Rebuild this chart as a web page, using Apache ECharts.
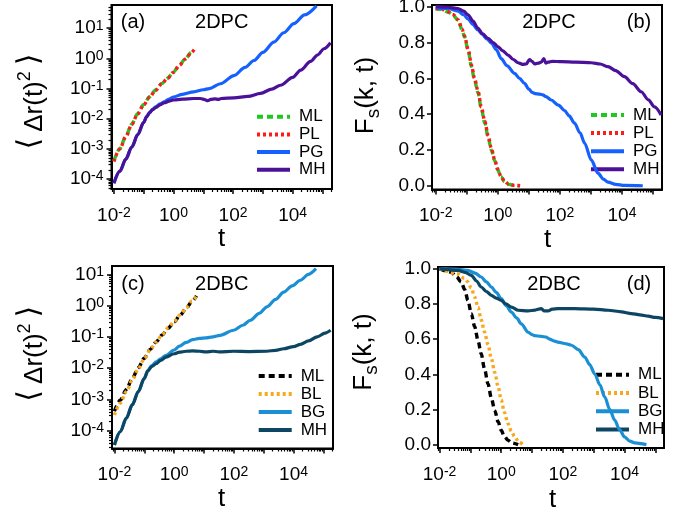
<!DOCTYPE html>
<html>
<head>
<meta charset="utf-8">
<script src="https://cdn.jsdelivr.net/npm/echarts@6/dist/echarts.min.js"></script>
<style>
  html, body { margin: 0; padding: 0; background: #fff; }
  #chart { width: 682px; height: 515px; }
</style>
</head>
<body>
<div id="chart"></div>
<script>
// ---------------------------------------------------------------
// Data. Times are stored as log10(t); mean-square displacements
// are stored as log10(<Δr²>); Fs(k,t) is stored as is.
// ---------------------------------------------------------------

// (a) 2DPC mean-square displacement
const pcMsdT_ML = [-2.0,-1.8,-1.6,-1.4,-1.2,-1.0,-0.8,-0.6,-0.4,-0.2,0.0,0.2,0.4,0.6,0.68];
const pcMsd_ML  = [-3.40,-2.99,-2.58,-2.18,-1.83,-1.53,-1.27,-1.05,-0.84,-0.66,-0.45,-0.22,-0.01,0.20,0.29];
const pcMsdT_PL = [-2.0,-1.8,-1.6,-1.4,-1.2,-1.0,-0.8,-0.6,-0.4,-0.2,0.0,0.2,0.4,0.6,0.7];
const pcMsd_PL  = [-3.42,-3.00,-2.60,-2.19,-1.84,-1.54,-1.28,-1.06,-0.85,-0.66,-0.46,-0.23,-0.02,0.19,0.30];
const pcMsdT_PG = [-2.0,-1.8,-1.6,-1.4,-1.2,-1.0,-0.9,-0.8,-0.7,-0.6,-0.45,-0.3,-0.15,0.0,0.3,0.68,1.0,1.2,1.58,2.03,2.4,2.7,3.0,3.37,3.7,4.04,4.4,4.8];
const pcMsd_PG  = [-4.14,-3.74,-3.34,-2.94,-2.53,-2.12,-1.93,-1.79,-1.69,-1.61,-1.51,-1.43,-1.35,-1.28,-1.19,-1.11,-1.04,-1.0,-0.84,-0.57,-0.3,-0.07,0.2,0.54,0.85,1.15,1.44,1.74];
const pcMsdT_MH = [-2.0,-1.8,-1.6,-1.4,-1.2,-1.0,-0.9,-0.8,-0.7,-0.6,-0.45,-0.3,-0.15,0.0,0.3,0.68,0.9,1.05,1.15,1.25,1.4,1.5,1.6,2.03,2.5,2.92,3.3,3.59,4.0,4.27,4.6,4.83,5.05,5.27];
const pcMsd_MH  = [-4.14,-3.74,-3.34,-2.94,-2.53,-2.12,-1.93,-1.80,-1.70,-1.63,-1.54,-1.47,-1.42,-1.38,-1.35,-1.33,-1.33,-1.37,-1.40,-1.36,-1.34,-1.36,-1.33,-1.31,-1.26,-1.16,-1.02,-0.89,-0.63,-0.39,-0.10,0.11,0.32,0.52];

// (b) 2DPC self-intermediate scattering function
const pcFsT_ML = [-2.0,-1.8,-1.6,-1.45,-1.28,-1.15,-1.07,-0.95,-0.85,-0.75,-0.64,-0.53,-0.42,-0.31,-0.21,-0.1,0.0,0.1,0.22,0.35,0.54,0.7];
const pcFs_ML  = [0.99,0.985,0.97,0.955,0.925,0.87,0.83,0.75,0.665,0.59,0.52,0.43,0.35,0.27,0.2,0.14,0.088,0.05,0.022,0.008,0.002,0.0];
const pcFsT_PL = [-2.0,-1.8,-1.6,-1.45,-1.28,-1.15,-1.07,-0.95,-0.85,-0.75,-0.64,-0.53,-0.42,-0.31,-0.21,-0.1,0.0,0.1,0.22,0.35,0.54,0.72];
const pcFs_PL  = [0.99,0.986,0.972,0.957,0.928,0.875,0.835,0.758,0.675,0.6,0.53,0.44,0.36,0.28,0.21,0.145,0.092,0.053,0.024,0.009,0.002,0.0];
const pcFsT_PG = [-2.0,-1.6,-1.28,-1.1,-0.95,-0.8,-0.64,-0.5,-0.35,-0.2,-0.05,0.11,0.3,0.54,0.7,0.86,1.0,1.1,1.2,1.35,1.45,1.55,1.72,1.95,2.15,2.3,2.47,2.65,2.8,3.01,3.23,3.4,3.55,3.8,4.08,4.67];
const pcFs_PG  = [0.995,0.99,0.975,0.955,0.93,0.9,0.87,0.845,0.82,0.795,0.76,0.71,0.67,0.628,0.6,0.572,0.54,0.522,0.515,0.512,0.508,0.498,0.479,0.45,0.42,0.39,0.35,0.295,0.237,0.144,0.07,0.037,0.02,0.008,0.002,0.0];
const pcFsT_MH = [-2.0,-1.6,-1.28,-1.1,-0.96,-0.8,-0.64,-0.5,-0.31,-0.15,0.0,0.15,0.33,0.5,0.65,0.8,0.92,1.02,1.1,1.19,1.3,1.4,1.48,1.55,1.62,1.75,2.05,2.5,3.01,3.3,3.55,3.8,4.08,4.35,4.62,4.85,5.05,5.26];
const pcFs_MH  = [1.0,0.997,0.99,0.975,0.955,0.92,0.88,0.85,0.823,0.80,0.777,0.755,0.73,0.705,0.687,0.678,0.68,0.705,0.695,0.68,0.685,0.69,0.71,0.685,0.69,0.695,0.693,0.69,0.687,0.68,0.665,0.643,0.609,0.57,0.525,0.48,0.44,0.395];

// (c) 2DBC mean-square displacement
const bcMsdT_ML = [-2.0,-1.8,-1.6,-1.4,-1.2,-1.0,-0.8,-0.6,-0.4,-0.2,0.0,0.2,0.4,0.6,0.75];
const bcMsd_ML  = [-3.38,-3.02,-2.68,-2.33,-1.99,-1.68,-1.40,-1.16,-0.94,-0.72,-0.52,-0.31,-0.09,0.14,0.31];
const bcMsdT_BL = [-2.0,-1.8,-1.6,-1.4,-1.2,-1.0,-0.8,-0.6,-0.4,-0.2,0.0,0.2,0.4,0.6,0.78];
const bcMsd_BL  = [-3.5,-3.12,-2.75,-2.38,-2.02,-1.70,-1.41,-1.16,-0.93,-0.71,-0.51,-0.30,-0.08,0.15,0.35];
const bcMsdT_BG = [-2.0,-1.8,-1.6,-1.4,-1.2,-1.0,-0.88,-0.75,-0.6,-0.45,-0.27,0.0,0.18,0.4,0.62,0.85,1.07,1.3,1.54,1.99,2.3,2.55,2.85,3.11,3.4,3.67,3.95,4.23,4.5,4.75];
const bcMsd_BG  = [-4.46,-4.03,-3.6,-3.17,-2.75,-2.33,-2.08,-1.92,-1.8,-1.7,-1.59,-1.42,-1.3,-1.18,-1.09,-1.05,-1.03,-1.0,-0.95,-0.79,-0.63,-0.47,-0.25,-0.04,0.2,0.43,0.63,0.81,1.0,1.18];
const bcMsdT_MH = [-2.0,-1.8,-1.6,-1.4,-1.2,-1.0,-0.88,-0.75,-0.6,-0.45,-0.27,0.0,0.18,0.4,0.62,0.85,1.07,1.3,1.5,1.99,2.5,3.11,3.4,3.67,4.0,4.23,4.5,4.79,5.05,5.24];
const bcMsd_MH  = [-4.46,-4.03,-3.6,-3.17,-2.75,-2.33,-2.09,-1.95,-1.86,-1.75,-1.65,-1.54,-1.49,-1.46,-1.45,-1.46,-1.48,-1.46,-1.48,-1.46,-1.47,-1.46,-1.43,-1.38,-1.31,-1.24,-1.13,-1.0,-0.88,-0.79];

// (d) 2DBC self-intermediate scattering function
const bcFsT_ML = [-2.0,-1.62,-1.45,-1.3,-1.18,-1.08,-0.97,-0.86,-0.75,-0.65,-0.54,-0.43,-0.32,-0.21,-0.1,0.0,0.1,0.22,0.35,0.55];
const bcFs_ML  = [1.0,0.98,0.955,0.925,0.88,0.82,0.745,0.67,0.59,0.517,0.43,0.347,0.265,0.195,0.13,0.082,0.048,0.025,0.01,0.0];
const bcFsT_BL = [-2.0,-1.4,-1.2,-1.08,-0.97,-0.86,-0.75,-0.65,-0.54,-0.43,-0.32,-0.21,-0.1,0.0,0.1,0.22,0.33,0.44,0.57,0.71];
const bcFs_BL  = [1.0,0.97,0.945,0.925,0.89,0.84,0.78,0.71,0.64,0.57,0.49,0.41,0.33,0.255,0.185,0.12,0.075,0.044,0.015,0.0];
const bcFsT_BG = [-2.0,-1.4,-1.08,-0.85,-0.65,-0.48,-0.32,-0.16,0.0,0.16,0.33,0.5,0.65,0.87,1.0,1.08,1.3,1.46,1.52,1.57,1.7,1.84,2.05,2.28,2.5,2.71,2.87,3.03,3.2,3.36,3.52,3.68,3.84,4.0,4.17,4.33,4.71];
const bcFs_BG  = [1.0,0.997,0.99,0.975,0.953,0.925,0.896,0.865,0.83,0.79,0.754,0.72,0.687,0.64,0.625,0.62,0.615,0.612,0.605,0.6,0.59,0.583,0.575,0.565,0.54,0.498,0.455,0.403,0.34,0.27,0.2,0.139,0.085,0.044,0.02,0.01,0.0];
const bcFsT_MH = [-2.0,-1.4,-1.15,-0.97,-0.8,-0.65,-0.48,-0.32,-0.16,0.0,0.15,0.33,0.55,0.87,1.1,1.3,1.4,1.52,1.65,1.84,2.38,3.0,3.47,3.9,4.22,4.5,4.77,5.0,5.25];
const bcFs_MH  = [1.0,0.99,0.978,0.962,0.93,0.896,0.87,0.849,0.833,0.82,0.80,0.782,0.764,0.76,0.765,0.773,0.76,0.76,0.77,0.773,0.773,0.77,0.764,0.755,0.745,0.738,0.73,0.723,0.716];

// Tick label values
const logLabelsX = [-2, 0, 2, 4];
const logLabelsY = [-4, -3, -2, -1, 0, 1];
const fsLabels = [0, 0.2, 0.4, 0.6, 0.8, 1.0];

// ---------------------------------------------------------------
// Styling helpers
// ---------------------------------------------------------------
const FONT = '"Liberation Sans", Arial, Helvetica, sans-serif';
const BLACK = '#000';

const powRich = {
  b: { fontSize: 19, lineHeight: 19, padding: [5, 0, 0, 0], verticalAlign: 'bottom', fontFamily: FONT, color: BLACK },
  s: { fontSize: 14, lineHeight: 14, verticalAlign: 'top', fontFamily: FONT, color: BLACK }
};
const powFormatter = v => '{b|10}{s|' + Math.round(v) + '}';

function majorTicks(range) {
  const out = [];
  for (let n = Math.ceil(range[0]); n <= Math.floor(range[1]); n++) out.push(n);
  return out;
}
function minorTicks(range) {
  const out = [];
  for (let n = Math.floor(range[0]); n <= Math.ceil(range[1]); n++) {
    for (let k = 2; k <= 9; k++) {
      const v = n + Math.log10(k);
      if (v > range[0] && v < range[1]) out.push(v);
    }
  }
  return out;
}

function logAxis(gridIndex, range, labels, isX, margin) {
  return {
    gridIndex, type: 'value', min: range[0], max: range[1],
    position: isX ? 'bottom' : 'left',
    axisLine: { show: true, onZero: false, lineStyle: { color: BLACK, width: 2 } },
    axisTick: { show: true, inside: false, length: 5, customValues: majorTicks(range), lineStyle: { color: BLACK, width: 1.5 } },
    axisLabel: { show: true, customValues: labels, formatter: powFormatter, rich: powRich, margin, color: BLACK },
    splitLine: { show: false }, minorTick: { show: false }
  };
}
function minorLogAxis(gridIndex, range, isX) {
  return {
    gridIndex, type: 'value', min: range[0], max: range[1],
    position: isX ? 'bottom' : 'left',
    axisLine: { show: false, onZero: false },
    axisTick: { show: true, inside: false, length: 3, customValues: minorTicks(range), lineStyle: { color: BLACK, width: 1.2 } },
    axisLabel: { show: false },
    splitLine: { show: false }
  };
}
function fsAxis(gridIndex, range) {
  return {
    gridIndex, type: 'value', min: range[0], max: range[1], position: 'left',
    axisLine: { show: true, onZero: false, lineStyle: { color: BLACK, width: 2 } },
    axisTick: { show: true, inside: false, length: 5, customValues: fsLabels, lineStyle: { color: BLACK, width: 1.5 } },
    axisLabel: { show: true, customValues: fsLabels, formatter: v => v.toFixed(1), margin: 7,
                 fontSize: 19, fontFamily: FONT, color: BLACK },
    splitLine: { show: false }
  };
}

// colours
const C = {
  green: '#1ec81e', red: '#ff1a1a', blue: '#1560ff', purple: '#4b1199',
  black: '#000000', orange: '#f8a81c', sky: '#1a8fd4', navy: '#0d4663'
};
const DASH = [6, 4], DOT = [3, 3];

// ---------------------------------------------------------------
// Panels
// ---------------------------------------------------------------
const panels = [
  { grid: { left: 111.5, top: 5, width: 220.5, height: 184 }, x: [-2.08, 5.32], y: [-4.33, 1.77], log: true,
    legend: { left: 255, top: 108.2, gap: 0.7 },
    series: [
      { name: 'ML', t: pcMsdT_ML, v: pcMsd_ML, color: C.green, type: DASH },
      { name: 'PL', t: pcMsdT_PL, v: pcMsd_PL, color: C.red, type: DOT },
      { name: 'PG', t: pcMsdT_PG, v: pcMsd_PG, color: C.blue, type: 'solid' },
      { name: 'MH', t: pcMsdT_MH, v: pcMsd_MH, color: C.purple, type: 'solid' }
    ] },
  { grid: { left: 432, top: 5, width: 230, height: 184.5 }, x: [-2.12, 5.29], y: [-0.021, 1.0095], log: false,
    legend: { left: 589, top: 106.5, gap: 1.1 },
    series: [
      { name: 'ML', t: pcFsT_ML, v: pcFs_ML, color: C.green, type: DASH },
      { name: 'PL', t: pcFsT_PL, v: pcFs_PL, color: C.red, type: DOT },
      { name: 'PG', t: pcFsT_PG, v: pcFs_PG, color: C.blue, type: 'solid' },
      { name: 'MH', t: pcFsT_MH, v: pcFs_MH, color: C.purple, type: 'solid' }
    ] },
  { grid: { left: 112, top: 266, width: 221, height: 182.5 }, x: [-2.08, 5.32], y: [-4.57, 1.265], log: true,
    legend: { left: 256.7, top: 367.5, gap: 1 },
    series: [
      { name: 'ML', t: bcMsdT_ML, v: bcMsd_ML, color: C.black, type: DASH },
      { name: 'BL', t: bcMsdT_BL, v: bcMsd_BL, color: C.orange, type: DOT },
      { name: 'BG', t: bcMsdT_BG, v: bcMsd_BG, color: C.sky, type: 'solid' },
      { name: 'MH', t: bcMsdT_MH, v: bcMsd_MH, color: C.navy, type: 'solid' }
    ] },
  { grid: { left: 438, top: 267, width: 226, height: 181 }, x: [-2.05, 5.28], y: [-0.019, 1.0097], log: false,
    legend: { left: 594, top: 366.2, gap: 1.3 },
    series: [
      { name: 'ML', t: bcFsT_ML, v: bcFs_ML, color: C.black, type: DASH },
      { name: 'BL', t: bcFsT_BL, v: bcFs_BL, color: C.orange, type: DOT },
      { name: 'BG', t: bcFsT_BG, v: bcFs_BG, color: C.sky, type: 'solid' },
      { name: 'MH', t: bcFsT_MH, v: bcFs_MH, color: C.navy, type: 'solid' }
    ] }
];

const grids = [], xAxes = [], yAxes = [], series = [], legends = [];
panels.forEach((p, i) => {
  grids.push(Object.assign({ show: true, borderColor: BLACK, borderWidth: 2, backgroundColor: 'transparent',
                             containLabel: false, outerBoundsMode: 'none' }, p.grid));
  const xi = xAxes.length;
  xAxes.push(logAxis(i, p.x, logLabelsX, true, 17));
  xAxes.push(minorLogAxis(i, p.x, true));
  const yi = yAxes.length;
  if (p.log) {
    yAxes.push(logAxis(i, p.y, logLabelsY, false, 8));
    yAxes.push(minorLogAxis(i, p.y, false));
  } else {
    yAxes.push(fsAxis(i, p.y));
  }
  const names = [];
  p.series.forEach((s, k) => {
    const id = s.name + '|' + i;
    names.push(id);
    series.push({
      type: 'line', name: id, xAxisIndex: xi, yAxisIndex: yi,
      data: s.t.map((t, j) => [t, s.v[j]]),
      showSymbol: false, symbol: 'none', smooth: 0.3, smoothMonotone: 'x',
      clip: true, silent: true, animation: false, z: 2 + k,
      lineStyle: { color: s.color, width: s.type === 'solid' ? 3.2 : 3.4, type: s.type, cap: 'butt' },
      itemStyle: { color: s.color }
    });
  });
  legends.push({
    left: p.legend.left, top: p.legend.top, orient: 'vertical', padding: 0,
    itemWidth: 33, itemHeight: 14, itemGap: p.legend.gap, selectedMode: false,
    data: names, formatter: n => n.split('|')[0],
    itemStyle: { opacity: 0, borderWidth: 0 },
    lineStyle: { width: 4 },
    textStyle: { fontSize: 17, lineHeight: 17, fontFamily: FONT, color: BLACK, padding: [0, 0, 0, 4] }
  });
});

// Panel labels, axis titles
function label(text, x, y, size) {
  return { type: 'text', x, y, silent: true,
           style: { text, fontSize: size, fontFamily: FONT, fill: BLACK, align: 'center', verticalAlign: 'middle' } };
}
const msdName = {
  text: '{b|\u27e8}{m|\u0394r(t)}{p|2}{b|\u27e9}',
  rich: {
    b: { fontSize: 30, lineHeight: 32, fontFamily: '"DejaVu Sans"', verticalAlign: 'top', padding: [0, 6, 0, 6], fill: BLACK },
    m: { fontSize: 26, lineHeight: 26, fontFamily: FONT, verticalAlign: 'bottom', fill: BLACK },
    p: { fontSize: 18, lineHeight: 18, fontFamily: FONT, verticalAlign: 'top', padding: [0, 0, 12, 0], fill: BLACK }
  }
};
const fsName = {
  text: '{f|F}{s|s}{f|(k, t)}',
  rich: {
    f: { fontSize: 26, lineHeight: 26, fontFamily: FONT, verticalAlign: 'top', fill: BLACK },
    s: { fontSize: 19, lineHeight: 19, fontFamily: FONT, verticalAlign: 'top', padding: [11, 0, 0, 0], fill: BLACK }
  }
};
function vName(def, x, y) {
  return { type: 'text', x, y, rotation: Math.PI / 2, silent: true,
           style: { text: def.text, rich: def.rich, fill: BLACK, align: 'center', verticalAlign: 'middle' } };
}

const graphics = [
  label('(a)', 133, 22.5, 20), label('2DPC', 221.7, 22.5, 20),
  label('2DPC', 549, 22.5, 20), label('(b)', 639, 22.5, 20),
  label('(c)', 133, 284, 20), label('2DBC', 221.7, 284, 20),
  label('2DBC', 554, 284, 20), label('(d)', 639, 284, 20),
  label('t', 221.7, 239, 26), label('t', 547.7, 240, 26),
  label('t', 221.7, 498.7, 26), label('t', 552.7, 500.3, 26),
  vName(msdName, 31.7, 101.5), vName(fsName, 366, 95.5),
  vName(msdName, 31.7, 353.7), vName(fsName, 364.3, 352)
];

const chart = echarts.init(document.getElementById('chart'), null, { renderer: 'canvas' });
chart.setOption({
  animation: false,
  backgroundColor: '#fff',
  textStyle: { fontFamily: FONT },
  grid: grids,
  xAxis: xAxes,
  yAxis: yAxes,
  legend: legends,
  series: series,
  graphic: { elements: graphics },
  tooltip: { show: false }
});
</script>
</body>
</html>
